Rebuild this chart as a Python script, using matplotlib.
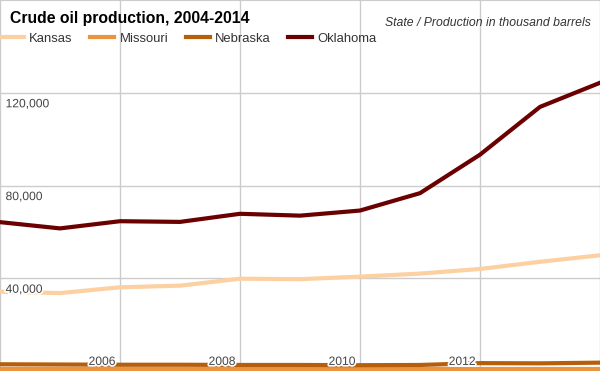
import matplotlib
matplotlib.use("Agg")
import matplotlib.pyplot as plt
import matplotlib.patheffects as pe
from matplotlib.lines import Line2D
from matplotlib.transforms import offset_copy

# ── Data (thousand barrels) ──────────────────────────────────────────────────

YEARS = [2004, 2005, 2006, 2007, 2008, 2009, 2010, 2011, 2012, 2013, 2014]
KANSAS = [34200, 33600, 36100, 36800, 39800, 39600, 40700, 42000, 44000, 47100, 49900]
MISSOURI = [700, 700, 700, 700, 700, 700, 700, 700, 700, 700, 700]
NEBRASKA = [2900, 2800, 2700, 2700, 2600, 2600, 2500, 2600, 3400, 3300, 3600]
OKLAHOMA = [64200, 61500, 64600, 64300, 67800, 67000, 69200, 76700, 93300, 113900, 124300]

STATES = ["Kansas", "Missouri", "Nebraska", "Oklahoma"]
X_TICKS = [2006, 2008, 2010, 2012]
Y_TICKS = [40000, 80000, 120000]

COLORS = {
    "Kansas": "#fdd0a2",
    "Missouri": "#ea9440",
    "Nebraska": "#b65e0b",
    "Oklahoma": "#6b0000",
}
GRID = "#cccccc"
FONT = "Liberation Sans"


def main():
    plt.rcParams["font.family"] = [FONT, "DejaVu Sans"]

    fig = plt.figure(figsize=(6.0, 3.71), dpi=100)
    ax = fig.add_axes([0, 0, 1, 1])
    ax.set_xlim(2004, 2014)
    ax.set_ylim(0, 160000)

    # grid
    for yr in range(2004, 2015, 2):
        ax.axvline(yr, color=GRID, linewidth=1.0, zorder=1)
    for v in Y_TICKS:
        ax.axhline(v, color=GRID, linewidth=1.0, zorder=1)
    for side in ["left", "right", "bottom"]:
        ax.spines[side].set_visible(False)
    ax.spines["top"].set_color(GRID)
    ax.set_xticks([])
    ax.set_yticks([])

    series = {"Kansas": KANSAS, "Missouri": MISSOURI,
              "Nebraska": NEBRASKA, "Oklahoma": OKLAHOMA}
    for name in STATES:
        ax.plot(YEARS, series[name], color=COLORS[name], linewidth=3.0,
                solid_joinstyle="round", zorder=3, clip_on=True)

    halo = [pe.withStroke(linewidth=2.5, foreground="white")]

    # y labels, inside the plot just under each grid line
    ytr = offset_copy(ax.get_yaxis_transform(), fig=fig, x=4, y=-4, units="points")
    for v in Y_TICKS:
        ax.text(0.0, v, f"{v:,}", transform=ytr, ha="left", va="top",
                fontsize=8.7, color="#444444", path_effects=halo, zorder=5)

    # x labels, at the bottom, right aligned to each grid line
    xtr = offset_copy(ax.get_xaxis_transform(), fig=fig, x=-3, y=2.2, units="points")
    for yr in X_TICKS:
        ax.text(yr, 0.0, str(yr), transform=xtr, ha="right", va="bottom",
                fontsize=8.7, color="#444444", path_effects=halo, zorder=5)

    # title / subtitle
    fig.text(10 / 600, 1 - 23 / 371, "Crude oil production, 2004-2014",
             fontsize=11.3, fontweight="bold", color="black",
             ha="left", va="baseline")
    fig.text(591 / 600, 1 - 26.5 / 371, "State / Production in thousand barrels",
             fontsize=8.85, fontstyle="italic", color="#333333",
             ha="right", va="baseline")

    # legend
    handles = [Line2D([0], [0], color=COLORS[n], linewidth=3.0, label=n)
               for n in STATES]
    fig.legend(handles=handles, loc="center left",
               bbox_to_anchor=(0.0, 1 - 38.5 / 371), ncol=4, frameon=False,
               fontsize=9.4, handlelength=1.85, handletextpad=0.4,
               columnspacing=1.33, borderpad=0, borderaxespad=0,
               labelcolor="#333333")

    fig.savefig("out.png", dpi=100)
    plt.close(fig)


if __name__ == "__main__":
    main()
